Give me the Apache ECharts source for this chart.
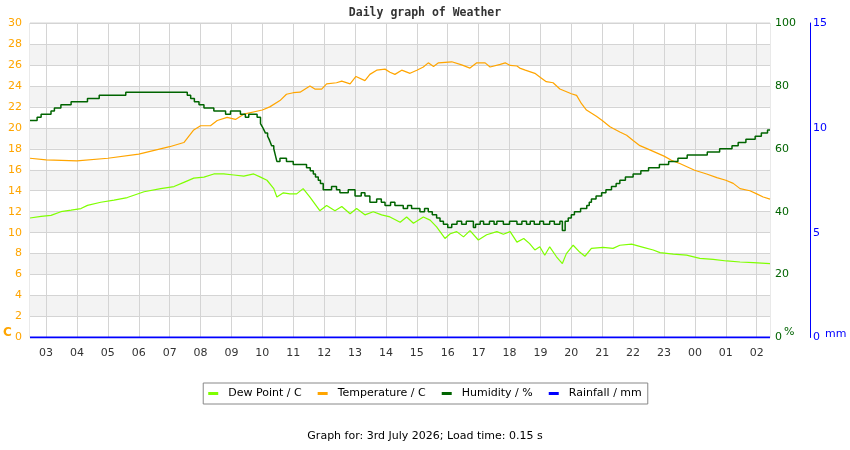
<!DOCTYPE html>
<html>
<head>
<meta charset="utf-8">
<title>Daily graph of Weather</title>
<script src="https://cdn.jsdelivr.net/npm/echarts@6/dist/echarts.min.js"></script>
<style>
  html, body { margin: 0; padding: 0; background: #fff; }
  #chart { width: 850px; height: 450px; }
</style>
</head>
<body>
<div id="chart"></div>
<script>
// hours since midnight 2nd July (24+ = next day)
const hourTicks = [3, 4, 5, 6, 7, 8, 9, 10, 11, 12, 13, 14, 15, 16, 17, 18, 19, 20, 21, 22, 23, 24, 25, 26];

const tempHours = [2.48, 3.0, 4.0, 5.0, 6.0, 7.0, 7.46, 7.78, 8.0, 8.32,
  8.54, 8.86, 9.13, 9.4, 10.0, 10.24, 10.57, 10.78, 11.0, 11.22,
  11.54, 11.7, 11.92, 12.08, 12.4, 12.57, 12.84, 13.03, 13.32, 13.48,
  13.7, 13.97, 14.13, 14.29, 14.51, 14.78, 15.0, 15.21, 15.37, 15.54,
  15.7, 16.13, 16.45, 16.72, 16.94, 17.21, 17.37, 17.7, 17.86, 18.02,
  18.24, 18.33, 18.51, 18.82, 19.0, 19.19, 19.41, 19.63, 20.0, 20.17,
  20.33, 20.49, 20.81, 21.0, 21.25, 21.57, 21.79, 22.0, 22.22, 22.54,
  23.0, 23.24, 23.51, 23.99, 24.38, 24.71, 25.0, 25.24, 25.46, 25.78,
  26.0, 26.21, 26.43];
const tempValues = [17.1, 16.95, 16.85, 17.1, 17.5, 18.2, 18.6, 19.8, 20.2, 20.2,
  20.7, 21.0, 20.8, 21.3, 21.7, 22.0, 22.6, 23.2, 23.35, 23.4,
  24.0, 23.7, 23.7, 24.2, 24.3, 24.45, 24.2, 24.9, 24.5, 25.1,
  25.5, 25.6, 25.3, 25.1, 25.5, 25.2, 25.5, 25.8, 26.2, 25.85,
  26.2, 26.3, 26.0, 25.7, 26.2, 26.2, 25.8, 26.05, 26.2, 25.95,
  25.9, 25.7, 25.5, 25.2, 24.8, 24.4, 24.3, 23.7, 23.25, 23.1,
  22.3, 21.7, 21.1, 20.7, 20.1, 19.6, 19.3, 18.8, 18.3, 17.9,
  17.3, 16.9, 16.6, 15.95, 15.6, 15.25, 15.0, 14.7, 14.2, 14.0,
  13.7, 13.4, 13.2];

const humHours = [2.48, 2.71, 2.84, 3.16, 3.27, 3.48, 3.81, 4.34, 4.72, 5.58,
  7.57, 7.68, 7.8, 7.95, 8.11, 8.43, 8.81, 8.97, 9.29, 9.45,
  9.56, 9.83, 9.94, 10.0, 10.05, 10.1, 10.17, 10.22, 10.26, 10.3,
  10.37, 10.42, 10.47, 10.57, 10.78, 11.0, 11.43, 11.55, 11.65, 11.72,
  11.81, 11.88, 11.97, 12.24, 12.4, 12.51, 12.78, 13.0, 13.2, 13.32,
  13.48, 13.7, 13.85, 13.97, 14.15, 14.29, 14.56, 14.7, 14.83, 15.1,
  15.25, 15.37, 15.5, 15.64, 15.75, 15.86, 16.0, 16.13, 16.3, 16.45,
  16.6, 16.83, 16.9, 17.05, 17.16, 17.35, 17.5, 17.59, 17.8, 18.0,
  18.24, 18.4, 18.55, 18.67, 18.8, 18.98, 19.1, 19.3, 19.45, 19.63,
  19.71, 19.8, 19.9, 20.0, 20.1, 20.3, 20.5, 20.58, 20.65, 20.8,
  20.98, 21.12, 21.3, 21.45, 21.57, 21.75, 22.0, 22.25, 22.5, 22.85,
  23.15, 23.45, 23.75, 24.4, 24.8, 25.2, 25.4, 25.65, 25.95, 26.15,
  26.35, 26.43];
const humValues = [69, 70, 71, 72, 73, 74, 75, 76, 77, 78,
  77, 76, 75, 74, 73, 72, 71, 72, 71, 70,
  71, 70, 68, 67, 66, 65, 64, 63, 62, 61,
  60, 58, 56, 57, 56, 55, 54, 53, 52, 51,
  50, 49, 47, 48, 47, 46, 47, 45, 46, 45,
  43, 44, 43, 42, 43, 42, 41, 42, 41, 40,
  41, 40, 39, 38, 37, 36, 35, 36, 37, 36,
  37, 35, 36, 37, 36, 37, 36, 37, 36, 37,
  36, 37, 36, 37, 36, 37, 36, 37, 36, 37,
  34, 37, 38, 39, 40, 41, 42, 43, 44, 45,
  46, 47, 48, 49, 50, 51, 52, 53, 54, 55,
  56, 57, 58, 59, 60, 61, 62, 63, 64, 65,
  66, 66];

const dewHours = [2.48, 2.84, 3.16, 3.48, 3.81, 4.13, 4.34, 4.77, 5.2, 5.63,
  6.17, 6.71, 7.14, 7.46, 7.78, 8.11, 8.43, 8.75, 9.08, 9.4,
  9.72, 9.94, 10.15, 10.37, 10.47, 10.68, 10.89, 11.11, 11.32, 11.54,
  11.86, 12.08, 12.35, 12.57, 12.84, 13.05, 13.32, 13.59, 13.86, 14.13,
  14.46, 14.67, 14.89, 15.21, 15.43, 15.64, 15.91, 16.08, 16.29, 16.51,
  16.72, 16.99, 17.26, 17.59, 17.8, 18.02, 18.24, 18.46, 18.65, 18.82,
  18.98, 19.14, 19.3, 19.52, 19.71, 19.84, 20.06, 20.27, 20.44, 20.65,
  21.03, 21.35, 21.57, 21.95, 22.33, 22.65, 22.87, 23.3, 23.73, 24.16,
  24.59, 25.03, 25.46, 25.89, 26.43];
const dewValues = [11.4, 11.55, 11.65, 12.0, 12.15, 12.3, 12.6, 12.9, 13.1, 13.35,
  13.9, 14.2, 14.4, 14.8, 15.2, 15.3, 15.6, 15.6, 15.5, 15.4,
  15.6, 15.3, 15.0, 14.2, 13.4, 13.8, 13.7, 13.7, 14.2, 13.4,
  12.1, 12.6, 12.1, 12.5, 11.8, 12.3, 11.7, 12.0, 11.7, 11.5,
  11.0, 11.5, 10.9, 11.5, 11.2, 10.55, 9.45, 9.9, 10.1, 9.6,
  10.2, 9.3, 9.8, 10.1, 9.85, 10.1, 9.1, 9.45, 8.95, 8.35,
  8.65, 7.85, 8.65, 7.7, 7.05, 8.0, 8.8, 8.15, 7.75, 8.5,
  8.6, 8.5, 8.8, 8.9, 8.6, 8.35, 8.1, 7.95, 7.85, 7.55,
  7.45, 7.3, 7.2, 7.15, 7.05];

const rainHours = [2.48, 26.43];
const rainValues = [0, 0];

const FONT = 'DejaVu Sans';
const GRID_LINE = '#d4d4d4';

function pairs(hours, values) {
  return hours.map((h, i) => [h, values[i]]);
}

function hourLabel(v) {
  const h = Math.round(v) % 24;
  return (h < 10 ? '0' : '') + h;
}

const chart = echarts.init(document.getElementById('chart'));

chart.setOption({
  animation: false,
  title: [
    {
      text: 'Daily graph of Weather',
      left: 'center',
      top: 7,
      padding: 0,
      textStyle: { fontFamily: 'DejaVu Sans Mono', fontWeight: 'bold', fontSize: 11.5, color: '#333' }
    },
    {
      text: 'Graph for: 3rd July 2026; Load time: 0.15 s',
      left: 'center',
      top: 431,
      padding: 0,
      textStyle: { fontFamily: FONT, fontWeight: 'normal', fontSize: 11, color: '#000' }
    }
  ],
  legend: {
    top: 383,
    left: 'center',
    icon: 'rect',
    itemWidth: 10,
    itemHeight: 3,
    itemGap: 16,
    borderColor: '#888',
    borderWidth: 1,
    borderRadius: 0,
    padding: [5, 6, 5, 5],
    textStyle: { fontFamily: FONT, fontSize: 11, color: '#000', padding: [0, 0, 0, 5] },
    data: ['Dew Point / C', 'Temperature / C', 'Humidity / %', 'Rainfall / mm']
  },
  grid: {
    left: 30,
    right: 80,
    top: 23,
    bottom: 112.5,
    show: true,
    borderColor: GRID_LINE,
    borderWidth: 1,
    backgroundColor: 'transparent'
  },
  xAxis: {
    type: 'value',
    min: 2.48,
    max: 26.43,
    axisLine: { show: false },
    axisTick: { show: false, customValues: hourTicks },
    axisLabel: { customValues: hourTicks, formatter: hourLabel, color: '#333', fontFamily: FONT, fontSize: 11, margin: 10 },
    splitLine: { show: true, lineStyle: { color: GRID_LINE } }
  },
  yAxis: [
    {
      type: 'value',
      position: 'left',
      min: 0,
      max: 30,
      interval: 2,
      axisLine: { show: false },
      axisTick: { show: false },
      axisLabel: { color: '#ffa500', fontFamily: FONT, fontSize: 11, margin: 8 },
      splitLine: { lineStyle: { color: GRID_LINE } },
      splitArea: { show: true, areaStyle: { color: ['#ffffff', '#f3f3f3'] } }
    },
    {
      type: 'value',
      position: 'right',
      min: 0,
      max: 100,
      interval: 20,
      axisLine: { show: false },
      axisTick: { show: false },
      axisLabel: { color: '#006400', fontFamily: FONT, fontSize: 11, margin: 5 },
      splitLine: { show: false }
    },
    {
      type: 'value',
      position: 'right',
      offset: 40,
      min: 0,
      max: 15,
      interval: 5,
      axisLine: { show: true, lineStyle: { color: '#0000ff', width: 1 } },
      axisTick: { show: false },
      axisLabel: { color: '#0000ff', fontFamily: FONT, fontSize: 11, margin: 3 },
      splitLine: { show: false }
    }
  ],
  graphic: [
    { type: 'text', style: { text: 'C', x: 3, y: 333, textVerticalAlign: 'middle', fill: '#ffa500', font: 'bold 12px DejaVu Sans' } },
    { type: 'text', style: { text: '%', x: 784, y: 332, textVerticalAlign: 'middle', fill: '#006400', font: '11px DejaVu Sans' } },
    { type: 'text', style: { text: 'mm', x: 825, y: 334, textVerticalAlign: 'middle', fill: '#0000ff', font: '11px DejaVu Sans' } }
  ],
  series: [
    {
      name: 'Dew Point / C',
      type: 'line',
      yAxisIndex: 0,
      data: pairs(dewHours, dewValues),
      showSymbol: false,
      itemStyle: { color: '#7fff00' },
      lineStyle: { color: '#7fff00', width: 1.2 }
    },
    {
      name: 'Temperature / C',
      type: 'line',
      yAxisIndex: 0,
      z: 3,
      data: pairs(tempHours, tempValues),
      showSymbol: false,
      itemStyle: { color: '#ffa500' },
      lineStyle: { color: '#ffa500', width: 1.2 }
    },
    {
      name: 'Humidity / %',
      type: 'line',
      yAxisIndex: 1,
      step: 'end',
      data: pairs(humHours, humValues),
      showSymbol: false,
      itemStyle: { color: '#006400' },
      lineStyle: { color: '#006400', width: 1.5 }
    },
    {
      name: 'Rainfall / mm',
      type: 'line',
      yAxisIndex: 2,
      z: 4,
      data: pairs(rainHours, rainValues),
      showSymbol: false,
      itemStyle: { color: '#0000ff' },
      lineStyle: { color: '#0000ff', width: 2 }
    }
  ]
});
</script>
</body>
</html>
